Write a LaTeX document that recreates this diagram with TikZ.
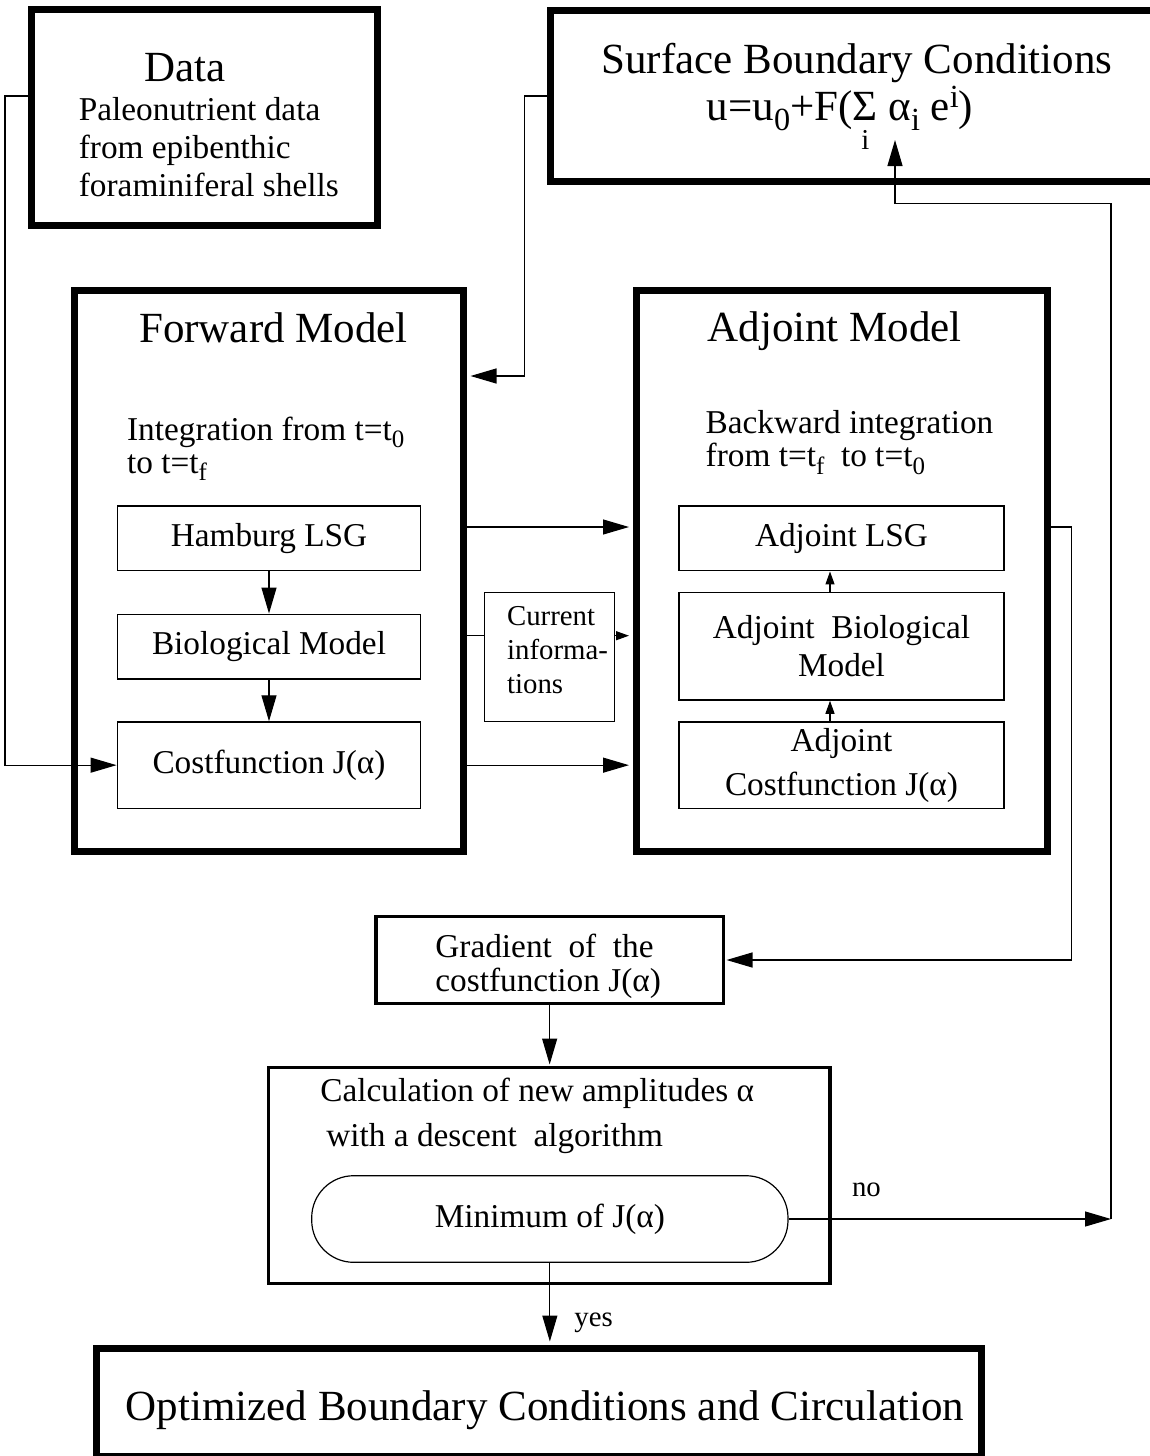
\documentclass[tikz,border=0pt]{standalone}
\usepackage{fontspec}
\usepackage{graphicx}
\setmainfont{Liberation Serif}
\usetikzlibrary{arrows.meta}

\newcommand{\ttlfont}{\fontsize{21.5}{25}\selectfont}
\newcommand{\txtfont}{\fontsize{16.65}{18.5}\selectfont}
\newcommand{\smlfont}{\fontsize{14.4}{16.85}\selectfont}
\newcommand{\subx}[1]{\raisebox{-0.24em}{\scalebox{0.75}{#1}}}
\newcommand{\supx}[1]{\raisebox{0.28em}{\scalebox{0.75}{#1}}}

\begin{document}
\begin{tikzpicture}[x=0.5pt, y=-0.5pt, font=\txtfont,
    heavybox/.style={draw, line width=3.5pt, inner sep=0pt},
    midbox/.style={draw, line width=1.6pt, inner sep=0pt},
    thinbox/.style={draw, line width=0.75pt, inner sep=0pt, align=center},
    conn/.style={line width=0.6pt},
    bigtip/.style={-{Triangle[length=13pt, width=7.5pt]}},
    smalltip/.style={-{Triangle[length=6.5pt, width=4.5pt]}},
    lbl/.style={inner sep=0pt, anchor=base west, align=left}]

  \useasboundingbox (0,0) rectangle (1150,1456);
  \clip (0,0) rectangle (1150,1456);

  % --- rows and columns of the connectors (pixel coords, y down) ---
  \coordinate (rowD) at (0,96);
  \coordinate (rowE) at (0,376);
  \coordinate (rowA) at (0,527);
  \coordinate (rowB) at (0,635.7);
  \coordinate (colA) at (830,0);
  \coordinate (sbcin) at (895,140);
  \coordinate (turn) at (1111,203.3);
  \coordinate (retpt) at (1111,1219);

  % ===================== Data =====================
  % (multi-line labels sit on the baseline of their last line)
  \node[heavybox, minimum width=173pt, minimum height=108pt] (data) at (204,117.5) {};
  \node[font=\ttlfont, inner sep=0pt, anchor=base] (datattl) at (185,81.7) {Data};
  \node[lbl, font={\fontsize{16.65}{19.15}\selectfont}] (datatxt) at (78.5,196.7)
    {Paleonutrient data\\from epibenthic\\foraminiferal shells};

  % ===================== Surface boundary conditions =====================
  \node[heavybox, minimum width=305pt, minimum height=85.85pt] (sbc) at (855,95.85) {};
  \node[font=\ttlfont, inner sep=0pt, anchor=base] (sbcttl) at (857,73.3)
    {Surface Boundary Conditions};
  \node[font=\ttlfont, inner sep=0pt, anchor=base] (formula) at (840,120)
    {u=u\subx{0}+F(\ooalign{Σ\cr\hidewidth\raisebox{-14.6pt}{\smlfont i}\hidewidth\cr} α\subx{i} e\supx{i})};

  % ===================== Forward model =====================
  \node[heavybox, minimum width=194.5pt, minimum height=280.75pt] (fwd) at (269,570.75) {};
  \node[font=\ttlfont, inner sep=0pt, anchor=base] (fwdttl) at (273.5,342) {Forward Model};
  \node[lbl, font={\fontsize{16.65}{16.5}\selectfont}] (fwdtxt) at (126.7,473)
    {Integration from t=t\subx{0}\\to t=t\subx{f}};
  \node[thinbox, minimum width=151.7pt, minimum height=32.35pt] (hamb) at (269,538.35) {Hamburg LSG};
  \node[thinbox, minimum width=151.7pt, minimum height=32.35pt] (bio) at (269,646.65) {Biological Model};
  \node[thinbox, minimum width=151.7pt, minimum height=43.15pt] (cost) at (269,765.15) {Costfunction J(α)};

  % ===================== Adjoint model =====================
  \node[heavybox, minimum width=205.5pt, minimum height=280.75pt] (adj) at (841.5,570.75) {};
  \node[font=\ttlfont, inner sep=0pt, anchor=base] (adjttl) at (834.7,341.7) {Adjoint Model};
  \node[lbl, font={\fontsize{16.65}{16.7}\selectfont}] (adjtxt) at (705.3,466.7)
    {Backward integration\\from t=t\subx{f}\ \ to t=t\subx{0}};
  \node[thinbox, minimum width=162.5pt, minimum height=32.35pt] (adjlsg) at (841.5,538.35) {Adjoint LSG};
  \node[thinbox, minimum width=162.5pt, minimum height=53.85pt,
        font={\fontsize{16.65}{18.8}\selectfont}] (adjbio) at (841.5,646.15)
    {Adjoint\ \ Biological\\Model};
  \node[thinbox, minimum width=162.5pt, minimum height=43.15pt,
        font={\fontsize{16.65}{21.85}\selectfont}] (adjcost) at (841.5,765.15)
    {Adjoint\\Costfunction J(α)};

  % ===================== Current informations =====================
  \node[thinbox, minimum width=65pt, minimum height=64.7pt] (cur) at (549.3,657) {};
  \node[lbl, font={\fontsize{14.4}{16.85}\selectfont}] (curtxt) at (506.7,693.3)
    {Current\\informa-\\tions};

  % ===================== Gradient and descent =====================
  \node[midbox, minimum width=173.65pt, minimum height=43.3pt] (grad) at (549.65,960) {};
  \node[lbl, font={\fontsize{16.65}{17.2}\selectfont}] (gradtxt) at (435,991.7)
    {Gradient\ \ of\ \ the\\costfunction J(α)};
  \node[midbox, minimum width=280.85pt, minimum height=107.8pt] (calc) at (549.15,1175.5) {};
  \node[lbl, font={\fontsize{16.65}{22.5}\selectfont}] (calctxt) at (320,1146.7)
    {Calculation of new amplitudes α\\\hspace*{3pt}with a descent\ \ algorithm};
  \node[draw, line width=0.6pt, rounded corners=21pt, inner sep=0pt,
        minimum width=238.15pt, minimum height=43.3pt] (minim) at (549.85,1219) {Minimum of J(α)};

  % ===================== Output =====================
  \node[heavybox, minimum width=442.75pt, minimum height=53.75pt] (outb) at (538.75,1402.25) {};
  \node[font=\ttlfont, inner sep=0pt, anchor=base] (outtxt) at (545,1420.7)
    {Optimized Boundary Conditions and Circulation};

  % --- connectors ---
  \draw[conn, bigtip] (data.west |- rowD) -- ++(-22.6,0) |- (cost.west);
  \draw[conn, bigtip, shorten >=1.75pt] (sbc.west |- rowD) -- ++(-22,0) |- (fwd.east |- rowE);
  \draw[conn, bigtip, shorten >=1.75pt] (fwd.east |- rowA) -- (adj.west |- rowA);
  \draw[conn] (fwd.east |- rowB) -- (cur.west |- rowB);
  \draw[conn, smalltip, shorten >=1.75pt] (cur.east |- rowB) -- (adj.west |- rowB);
  \draw[conn, bigtip, shorten >=1.75pt] (fwd.east |- cost) -- (adj.west |- cost);
  \draw[conn, bigtip] (hamb) -- (bio);
  \draw[conn, bigtip] (bio) -- (cost);
  \draw[conn, smalltip] (adjbio.north -| colA) -- (adjlsg.south -| colA);
  \draw[conn, smalltip] (adjcost.north -| colA) -- (adjbio.south -| colA);
  \draw[conn, bigtip, shorten >=0.8pt] (adj.east |- rowA) -- ++(21,0) |- (grad.east);
  \draw[conn, bigtip, shorten >=0.8pt] (grad) -- (calc.north -| grad);
  \draw[conn, bigtip, shorten >=1.75pt] (minim.south) -- (minim.south |- outb.north);
  \draw[conn, bigtip] (minim.east) -- (retpt);
  \draw[conn, bigtip] (retpt) -- (turn) -| (sbcin);

  % --- decision labels ---
  \node[font=\smlfont, inner sep=0pt, anchor=base west] (nolbl) at (851.6,1196.7) {no};
  \node[font=\smlfont, inner sep=0pt, anchor=base west] (yeslbl) at (574,1326.7) {yes};

\end{tikzpicture}
\end{document}
